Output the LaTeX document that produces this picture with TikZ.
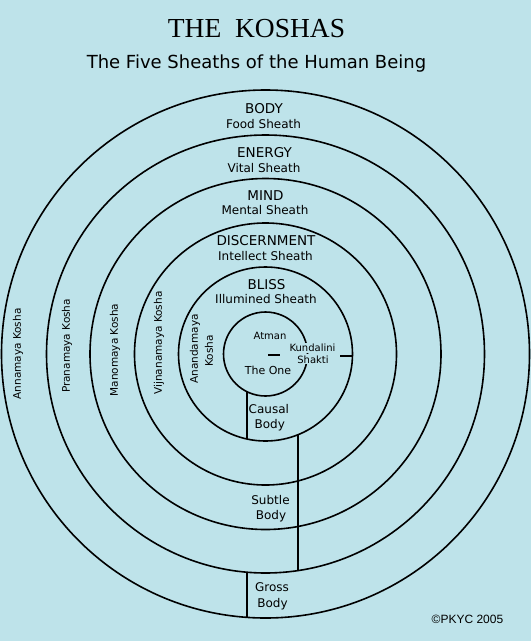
\documentclass[tikz,border=0pt]{standalone}
\usepackage{fontspec}
\setmainfont{Liberation Serif}
\newfontfamily\dvs{DejaVu Sans}
\newfontfamily\lsans{Liberation Sans}
\definecolor{bg}{RGB}{190,227,234}
\begin{document}
\begin{tikzpicture}[x=1pt,y=-1pt,
  ring/.style={draw=black,line width=1.6pt},
  divider/.style={draw=black,line width=1.3pt},
  capl/.style={font=\dvs\fontsize{13.5}{15}\selectfont,anchor=base,inner sep=0pt},
  subl/.style={font=\dvs\fontsize{12}{14}\selectfont,anchor=base,inner sep=0pt},
  smalll/.style={font=\dvs\fontsize{10}{12}\selectfont,anchor=base,inner sep=0pt},
  koshal/.style={font=\dvs\fontsize{10.5}{12}\selectfont,rotate=90,inner sep=0pt},
  maskl/.style={fill=bg,inner sep=1pt}]
\fill[bg] (0,0) rectangle (531,641);
\useasboundingbox (0,0) rectangle (531,641);
\coordinate (c) at (265.5,354);
% rings
\draw[ring] (c) circle (264pt);
\draw[ring] (c) circle (219pt);
\draw[ring] (c) circle (175.5pt);
\draw[ring] (c) circle (131pt);
\draw[ring] (c) circle (87pt);
\draw[ring] (c) circle (42pt);
% divider coordinates
\coordinate (causalT) at (247,391.7);
\coordinate (causalB) at (247,439.0);
\coordinate (subtleT) at (298,434.7);
\coordinate (subtleB) at (298,570.6);
\coordinate (grossT) at (247,572.2);
\coordinate (grossB) at (247,617.4);
\coordinate (dashL) at (268,355);
\coordinate (dashR) at (280,355);
\coordinate (tickL) at (340,356);
\coordinate (tickR) at (353,356);
\draw[divider] (causalT) -- (causalB);
\draw[divider] (subtleT) -- (subtleB);
\draw[divider] (grossT) -- (grossB);
\draw[divider] (dashL) -- (dashR);
\draw[divider] (tickL) -- (tickR);
% titles
\node[anchor=base,inner sep=0pt,font=\fontsize{27.5}{30}\selectfont] (title) at (256.5,37) {THE\ \ KOSHAS};
\node[anchor=base,inner sep=0pt,font=\dvs\fontsize{18}{20}\selectfont] (subtitle) at (256.5,68) {The Five Sheaths of the Human Being};
% sheath labels
\node[capl] (body) at (264,113) {BODY};
\node[subl] (food) at (263.5,128) {Food Sheath};
\node[capl] (energy) at (264.5,157.5) {ENERGY};
\node[subl] (vital) at (264,172) {Vital Sheath};
\node[capl] (mind) at (265.5,200) {MIND};
\node[subl] (mental) at (265,214) {Mental Sheath};
\node[capl] (disc) at (266,245.5) {DISCERNMENT};
\node[subl] (intellect) at (265.5,260) {Intellect Sheath};
\node[capl] (bliss) at (266.5,289) {BLISS};
\node[subl] (illumined) at (266,303) {Illumined Sheath};
% kosha labels
\node[koshal] (anna) at (18,354) {Annamaya Kosha};
\node[koshal] (prana) at (67,346) {Pranamaya Kosha};
\node[koshal] (mano) at (115,350) {Manomaya Kosha};
\node[koshal] (vijn) at (159,343) {Vijnanamaya Kosha};
\node[koshal] (ananda) at (195,349) {Anandamaya};
\node[koshal] (anandak) at (209,351) {Kosha};
% centre
\node[smalll] (atman) at (270,339.5) {Atman};
\node[anchor=base,inner sep=0pt,font=\dvs\fontsize{11}{13}\selectfont] (one) at (268,374.5) {The One};
\node[smalll,maskl,anchor=base] (kund) at (312.5,351.5) {Kundalini};
\node[smalll,maskl,anchor=base] (shakti) at (313,363) {Shakti};
% bodies
\node[subl] (causal) at (268.8,413.5) {Causal};
\node[subl] (causalb) at (269.7,428.5) {Body};
\node[subl] (subtle) at (270.5,504) {Subtle};
\node[subl] (subtleb) at (271,519) {Body};
\node[subl] (gross) at (272,591.7) {Gross};
\node[subl] (grossb) at (272.5,607) {Body};
% copyright
\node[anchor=base,inner sep=0pt,font=\lsans\fontsize{12}{14}\selectfont] (copy) at (467.5,623) {©PKYC 2005};
\end{tikzpicture}
\end{document}
